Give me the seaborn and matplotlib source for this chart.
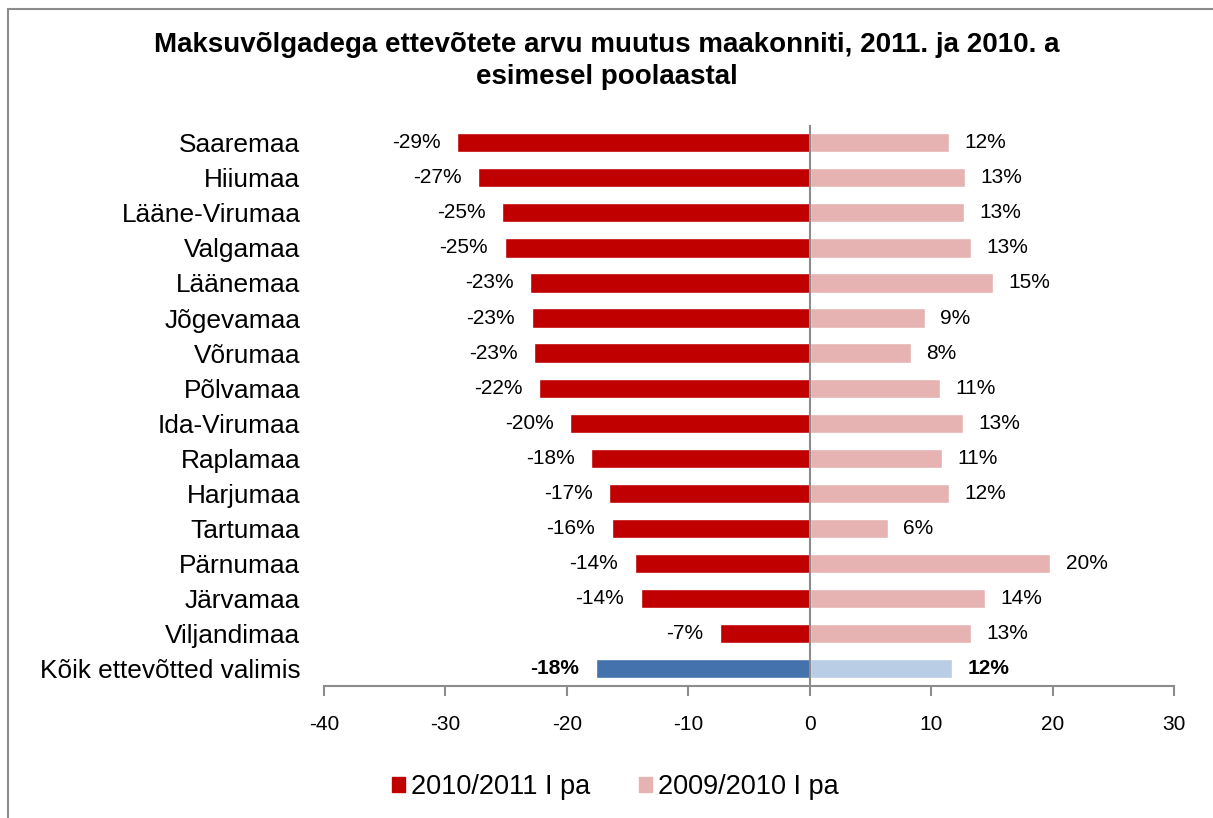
import numpy as np
import pandas as pd
import seaborn as sns
import matplotlib.pyplot as plt
from matplotlib.patches import Rectangle, Patch

# --- Data ---
regions = ["Saaremaa", "Hiiumaa", "Lääne-Virumaa", "Valgamaa", "Läänemaa", "Jõgevamaa",
           "Võrumaa", "Põlvamaa", "Ida-Virumaa", "Raplamaa", "Harjumaa", "Tartumaa",
           "Pärnumaa", "Järvamaa", "Viljandimaa", "Kõik ettevõtted valimis"]
change_2011 = [-29.0, -27.3, -25.3, -25.1, -23.0, -22.9, -22.7, -22.3, -19.7, -18.0,
               -16.5, -16.3, -14.4, -13.9, -7.4, -17.6]
change_2010 = [11.5, 12.8, 12.7, 13.3, 15.1, 9.5, 8.3, 10.7, 12.6, 10.9,
               11.5, 6.4, 19.8, 14.4, 13.3, 11.7]
labels_2011 = ["-29%", "-27%", "-25%", "-25%", "-23%", "-23%", "-23%", "-22%", "-20%", "-18%",
               "-17%", "-16%", "-14%", "-14%", "-7%", "-18%"]
labels_2010 = ["12%", "13%", "13%", "13%", "15%", "9%", "8%", "11%", "13%", "11%",
               "12%", "6%", "20%", "14%", "13%", "12%"]
series_names = ["2010/2011 I pa", "2009/2010 I pa"]

# --- Colours ---
dark_red = "#C00000"
light_red = "#E6B3B2"
dark_blue = "#4472AC"
light_blue = "#B9CDE5"

df = pd.DataFrame({"region": regions, "y2011": change_2011, "y2010": change_2010})
pal_left = {r: dark_red for r in regions}
pal_left[regions[-1]] = dark_blue
pal_right = {r: light_red for r in regions}
pal_right[regions[-1]] = light_blue

sns.set_style("white")
plt.rcParams["font.family"] = ["Liberation Sans", "DejaVu Sans"]
plt.rcParams["axes.unicode_minus"] = False
plt.rcParams["text.color"] = "black"
plt.rcParams["xtick.color"] = "black"
plt.rcParams["ytick.color"] = "black"

fig = plt.figure(figsize=(12.13, 8.18), dpi=100)
ax = fig.add_axes([0.267, 0.161, 0.701, 0.686])

sns.barplot(data=df, x="y2011", y="region", hue="region", palette=pal_left,
            orient="h", width=0.55, legend=False, ax=ax, saturation=1)
sns.barplot(data=df, x="y2010", y="region", hue="region", palette=pal_right,
            orient="h", width=0.55, legend=False, ax=ax, saturation=1)

ax.axvline(0, color="#8C8C8C", lw=1.5, zorder=3)

# value labels
for i in range(len(regions)):
    bold = "bold" if i == len(regions) - 1 else "normal"
    ax.annotate(labels_2011[i], (change_2011[i], i), xytext=(-12, 0), textcoords="offset points",
                ha="right", va="center", fontsize=15, fontweight=bold, color="black")
    ax.annotate(labels_2010[i], (change_2010[i], i), xytext=(11, 0), textcoords="offset points",
                ha="left", va="center", fontsize=15, fontweight=bold, color="black")

ax.set_xlim(-40, 30)
ax.set_ylim(len(regions) - 0.5, -0.5)
ax.set_xticks(range(-40, 31, 10))
ax.set_xlabel("")
ax.set_ylabel("")
for s in ["top", "right", "left"]:
    ax.spines[s].set_visible(False)
ax.spines["bottom"].set_color("#8C8C8C")
ax.spines["bottom"].set_linewidth(1.5)
ax.tick_params(axis="x", bottom=True, direction="out", length=7, width=1.5, color="#8C8C8C",
               labelcolor="black", labelsize=15, pad=14)
ax.tick_params(axis="y", left=False, length=0, labelcolor="black", labelsize=18.9, pad=17)

fig.text(0.5, 0.926, "Maksuvõlgadega ettevõtete arvu muutus maakonniti, 2011. ja 2010. a\nesimesel poolaastal",
         ha="center", va="center", fontsize=20, fontweight="bold", linespacing=1.3)

handles = [Patch(color=dark_red, label=series_names[0]), Patch(color=light_red, label=series_names[1])]
fig.legend(handles=handles, loc="center", bbox_to_anchor=(0.507, 0.038), ncol=2, frameon=False,
           fontsize=19.5, handlelength=0.5, handleheight=0.5, handletextpad=0.2, columnspacing=1.8)

fig.patches.append(Rectangle((0.007, -0.01), 1.0, 1.0 - 0.001, transform=fig.transFigure,
                             fill=False, edgecolor="#8C8C8C", lw=1.5))

fig.savefig("out.png", dpi=100)
